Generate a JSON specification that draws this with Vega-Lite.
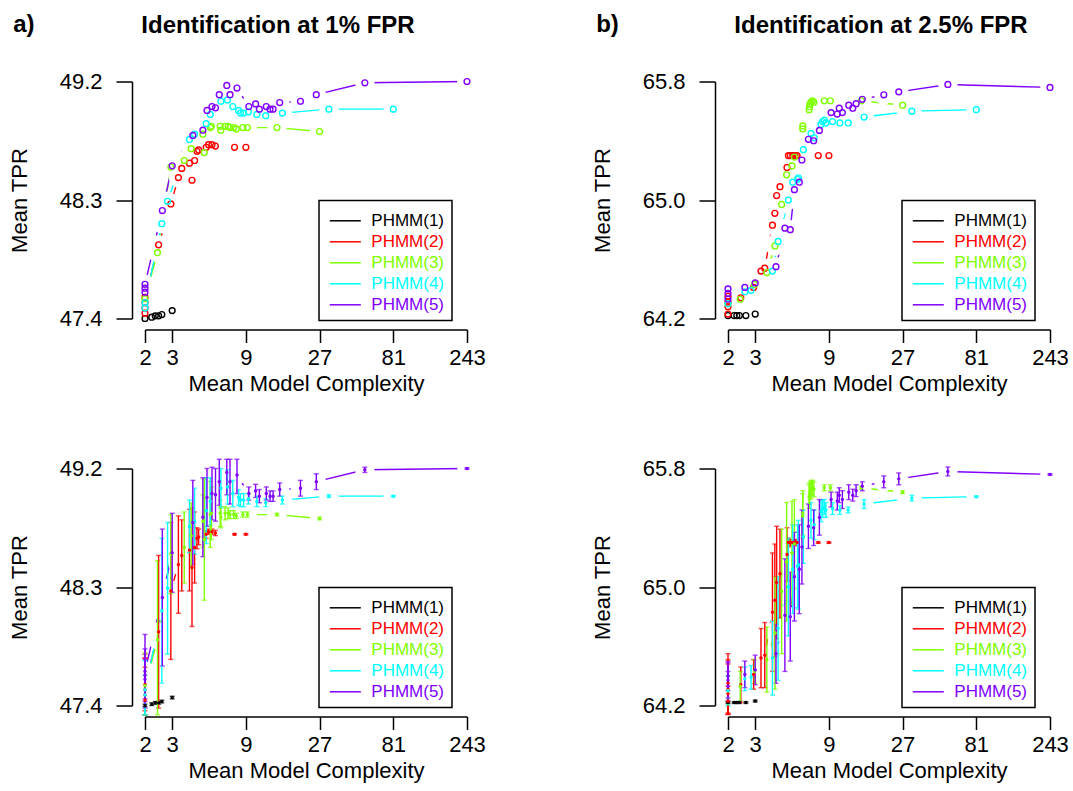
{
"$schema": "https://vega.github.io/schema/vega-lite/v6.json",
"background": "white",
"padding": {"left": 8, "top": 12.5, "right": 5, "bottom": 3},
"datasets": {"d": [
{"p":"a","s":"PHMM(1)","x":2,"y":47.40,"lo":47.39,"hi":47.41},
{"p":"a","s":"PHMM(1)","x":2.21,"y":47.41,"lo":47.40,"hi":47.42},
{"p":"a","s":"PHMM(1)","x":2.33,"y":47.42,"lo":47.41,"hi":47.43},
{"p":"a","s":"PHMM(1)","x":2.45,"y":47.42,"lo":47.41,"hi":47.43},
{"p":"a","s":"PHMM(1)","x":2.57,"y":47.43,"lo":47.42,"hi":47.44},
{"p":"a","s":"PHMM(1)","x":3.0,"y":47.46,"lo":47.45,"hi":47.47},
{"p":"a","s":"PHMM(2)","x":2,"y":47.44,"lo":47.33,"hi":47.69},
{"p":"a","s":"PHMM(2)","x":2,"y":47.48,"lo":47.33,"hi":47.76},
{"p":"a","s":"PHMM(2)","x":2,"y":47.52,"lo":47.33,"hi":47.79},
{"p":"a","s":"PHMM(2)","x":2,"y":47.56,"lo":47.36,"hi":47.76},
{"p":"a","s":"PHMM(2)","x":2.45,"y":47.96,"lo":47.38,"hi":48.54},
{"p":"a","s":"PHMM(2)","x":2.94,"y":48.27,"lo":47.75,"hi":48.79},
{"p":"a","s":"PHMM(2)","x":3.29,"y":48.47,"lo":48.10,"hi":48.84},
{"p":"a","s":"PHMM(2)","x":3.46,"y":48.54,"lo":48.27,"hi":48.81},
{"p":"a","s":"PHMM(2)","x":3.88,"y":48.58,"lo":48.27,"hi":48.89},
{"p":"a","s":"PHMM(2)","x":4.03,"y":48.45,"lo":48.00,"hi":48.90},
{"p":"a","s":"PHMM(2)","x":4.19,"y":48.60,"lo":48.33,"hi":48.87},
{"p":"a","s":"PHMM(2)","x":4.34,"y":48.67,"lo":48.59,"hi":48.75},
{"p":"a","s":"PHMM(2)","x":4.45,"y":48.68,"lo":48.62,"hi":48.74},
{"p":"a","s":"PHMM(2)","x":4.98,"y":48.70,"lo":48.67,"hi":48.73},
{"p":"a","s":"PHMM(2)","x":5.16,"y":48.72,"lo":48.70,"hi":48.74},
{"p":"a","s":"PHMM(2)","x":5.43,"y":48.72,"lo":48.70,"hi":48.74},
{"p":"a","s":"PHMM(2)","x":5.71,"y":48.71,"lo":48.69,"hi":48.73},
{"p":"a","s":"PHMM(2)","x":7.6,"y":48.70,"lo":48.695,"hi":48.705},
{"p":"a","s":"PHMM(2)","x":9.0,"y":48.70,"lo":48.695,"hi":48.705},
{"p":"a","s":"PHMM(3)","x":2,"y":47.55,"lo":47.33,"hi":47.80},
{"p":"a","s":"PHMM(3)","x":2.41,"y":47.90,"lo":47.33,"hi":48.50},
{"p":"a","s":"PHMM(3)","x":2.94,"y":48.55,"lo":48.25,"hi":48.85},
{"p":"a","s":"PHMM(3)","x":3.59,"y":48.60,"lo":48.33,"hi":48.87},
{"p":"a","s":"PHMM(3)","x":3.98,"y":48.69,"lo":48.44,"hi":48.94},
{"p":"a","s":"PHMM(3)","x":4.74,"y":48.80,"lo":48.60,"hi":49.00},
{"p":"a","s":"PHMM(3)","x":4.84,"y":48.66,"lo":48.20,"hi":49.12},
{"p":"a","s":"PHMM(3)","x":5.29,"y":48.85,"lo":48.60,"hi":49.10},
{"p":"a","s":"PHMM(3)","x":5.38,"y":48.86,"lo":48.66,"hi":49.06},
{"p":"a","s":"PHMM(3)","x":6.14,"y":48.86,"lo":48.76,"hi":48.96},
{"p":"a","s":"PHMM(3)","x":6.2,"y":48.83,"lo":48.75,"hi":48.91},
{"p":"a","s":"PHMM(3)","x":6.6,"y":48.86,"lo":48.81,"hi":48.91},
{"p":"a","s":"PHMM(3)","x":6.9,"y":48.86,"lo":48.82,"hi":48.90},
{"p":"a","s":"PHMM(3)","x":7.1,"y":48.85,"lo":48.82,"hi":48.88},
{"p":"a","s":"PHMM(3)","x":7.5,"y":48.85,"lo":48.82,"hi":48.88},
{"p":"a","s":"PHMM(3)","x":7.8,"y":48.84,"lo":48.82,"hi":48.86},
{"p":"a","s":"PHMM(3)","x":8.6,"y":48.85,"lo":48.83,"hi":48.87},
{"p":"a","s":"PHMM(3)","x":9.2,"y":48.85,"lo":48.83,"hi":48.87},
{"p":"a","s":"PHMM(3)","x":14.3,"y":48.85,"lo":48.84,"hi":48.86},
{"p":"a","s":"PHMM(3)","x":27,"y":48.82,"lo":48.81,"hi":48.83},
{"p":"a","s":"PHMM(4)","x":2,"y":47.48,"lo":47.33,"hi":47.63},
{"p":"a","s":"PHMM(4)","x":2,"y":47.52,"lo":47.33,"hi":47.74},
{"p":"a","s":"PHMM(4)","x":2.57,"y":48.12,"lo":47.57,"hi":48.67},
{"p":"a","s":"PHMM(4)","x":2.8,"y":48.29,"lo":47.79,"hi":48.79},
{"p":"a","s":"PHMM(4)","x":3.88,"y":48.76,"lo":48.56,"hi":48.96},
{"p":"a","s":"PHMM(4)","x":4.19,"y":48.80,"lo":48.55,"hi":49.05},
{"p":"a","s":"PHMM(4)","x":4.98,"y":48.88,"lo":48.63,"hi":49.13},
{"p":"a","s":"PHMM(4)","x":5.29,"y":48.95,"lo":48.77,"hi":49.13},
{"p":"a","s":"PHMM(4)","x":6.2,"y":49.05,"lo":48.90,"hi":49.20},
{"p":"a","s":"PHMM(4)","x":6.84,"y":49.06,"lo":48.93,"hi":49.19},
{"p":"a","s":"PHMM(4)","x":7.4,"y":49.01,"lo":48.91,"hi":49.11},
{"p":"a","s":"PHMM(4)","x":8.07,"y":48.98,"lo":48.92,"hi":49.04},
{"p":"a","s":"PHMM(4)","x":8.3,"y":48.96,"lo":48.91,"hi":49.01},
{"p":"a","s":"PHMM(4)","x":8.7,"y":48.96,"lo":48.91,"hi":49.01},
{"p":"a","s":"PHMM(4)","x":9.35,"y":48.97,"lo":48.93,"hi":49.01},
{"p":"a","s":"PHMM(4)","x":10.6,"y":48.95,"lo":48.91,"hi":48.99},
{"p":"a","s":"PHMM(4)","x":12.1,"y":48.94,"lo":48.91,"hi":48.97},
{"p":"a","s":"PHMM(4)","x":15.5,"y":48.96,"lo":48.93,"hi":48.99},
{"p":"a","s":"PHMM(4)","x":31,"y":48.99,"lo":48.98,"hi":49.00},
{"p":"a","s":"PHMM(4)","x":81,"y":48.99,"lo":48.985,"hi":48.995},
{"p":"a","s":"PHMM(5)","x":2,"y":47.60,"lo":47.45,"hi":47.75},
{"p":"a","s":"PHMM(5)","x":2,"y":47.63,"lo":47.43,"hi":47.83},
{"p":"a","s":"PHMM(5)","x":2,"y":47.66,"lo":47.38,"hi":47.94},
{"p":"a","s":"PHMM(5)","x":2.59,"y":48.22,"lo":47.70,"hi":48.74},
{"p":"a","s":"PHMM(5)","x":3.0,"y":48.56,"lo":48.26,"hi":48.86},
{"p":"a","s":"PHMM(5)","x":4.08,"y":48.79,"lo":48.47,"hi":49.11},
{"p":"a","s":"PHMM(5)","x":4.74,"y":48.83,"lo":48.53,"hi":49.13},
{"p":"a","s":"PHMM(5)","x":5.04,"y":48.98,"lo":48.76,"hi":49.20},
{"p":"a","s":"PHMM(5)","x":5.43,"y":49.01,"lo":48.81,"hi":49.21},
{"p":"a","s":"PHMM(5)","x":5.72,"y":49.00,"lo":48.80,"hi":49.20},
{"p":"a","s":"PHMM(5)","x":6.05,"y":49.10,"lo":48.92,"hi":49.27},
{"p":"a","s":"PHMM(5)","x":6.77,"y":49.17,"lo":49.00,"hi":49.27},
{"p":"a","s":"PHMM(5)","x":7.1,"y":49.10,"lo":48.93,"hi":49.27},
{"p":"a","s":"PHMM(5)","x":7.88,"y":49.15,"lo":49.01,"hi":49.27},
{"p":"a","s":"PHMM(5)","x":9.4,"y":49.01,"lo":48.96,"hi":49.06},
{"p":"a","s":"PHMM(5)","x":10.4,"y":49.03,"lo":48.98,"hi":49.08},
{"p":"a","s":"PHMM(5)","x":11.0,"y":48.99,"lo":48.94,"hi":49.04},
{"p":"a","s":"PHMM(5)","x":12.2,"y":49.01,"lo":48.96,"hi":49.06},
{"p":"a","s":"PHMM(5)","x":12.9,"y":48.99,"lo":48.95,"hi":49.03},
{"p":"a","s":"PHMM(5)","x":13.5,"y":48.99,"lo":48.95,"hi":49.03},
{"p":"a","s":"PHMM(5)","x":14.9,"y":49.04,"lo":48.99,"hi":49.09},
{"p":"a","s":"PHMM(5)","x":20.3,"y":49.05,"lo":48.99,"hi":49.11},
{"p":"a","s":"PHMM(5)","x":25.7,"y":49.10,"lo":49.04,"hi":49.16},
{"p":"a","s":"PHMM(5)","x":53,"y":49.19,"lo":49.17,"hi":49.21},
{"p":"a","s":"PHMM(5)","x":243,"y":49.20,"lo":49.195,"hi":49.205},
{"p":"b","s":"PHMM(1)","x":2,"y":64.22,"lo":64.214,"hi":64.226},
{"p":"b","s":"PHMM(1)","x":2.19,"y":64.22,"lo":64.214,"hi":64.226},
{"p":"b","s":"PHMM(1)","x":2.28,"y":64.22,"lo":64.214,"hi":64.226},
{"p":"b","s":"PHMM(1)","x":2.37,"y":64.22,"lo":64.214,"hi":64.226},
{"p":"b","s":"PHMM(1)","x":2.61,"y":64.22,"lo":64.214,"hi":64.226},
{"p":"b","s":"PHMM(1)","x":3.0,"y":64.23,"lo":64.224,"hi":64.236},
{"p":"b","s":"PHMM(2)","x":2,"y":64.23,"lo":64.14,"hi":64.33},
{"p":"b","s":"PHMM(2)","x":2,"y":64.28,"lo":64.14,"hi":64.48},
{"p":"b","s":"PHMM(2)","x":2,"y":64.31,"lo":64.14,"hi":64.51},
{"p":"b","s":"PHMM(2)","x":2,"y":64.35,"lo":64.15,"hi":64.55},
{"p":"b","s":"PHMM(2)","x":2.42,"y":64.34,"lo":64.22,"hi":64.46},
{"p":"b","s":"PHMM(2)","x":2.93,"y":64.41,"lo":64.31,"hi":64.51},
{"p":"b","s":"PHMM(2)","x":3.27,"y":64.52,"lo":64.32,"hi":64.72},
{"p":"b","s":"PHMM(2)","x":3.46,"y":64.54,"lo":64.32,"hi":64.76},
{"p":"b","s":"PHMM(2)","x":3.88,"y":64.83,"lo":64.43,"hi":65.23},
{"p":"b","s":"PHMM(2)","x":4.02,"y":64.91,"lo":64.53,"hi":65.29},
{"p":"b","s":"PHMM(2)","x":4.13,"y":65.03,"lo":64.65,"hi":65.41},
{"p":"b","s":"PHMM(2)","x":4.34,"y":65.09,"lo":64.79,"hi":65.39},
{"p":"b","s":"PHMM(2)","x":4.82,"y":65.22,"lo":65.04,"hi":65.40},
{"p":"b","s":"PHMM(2)","x":4.92,"y":65.30,"lo":65.27,"hi":65.33},
{"p":"b","s":"PHMM(2)","x":5.06,"y":65.30,"lo":65.28,"hi":65.32},
{"p":"b","s":"PHMM(2)","x":5.25,"y":65.30,"lo":65.28,"hi":65.32},
{"p":"b","s":"PHMM(2)","x":5.44,"y":65.30,"lo":65.28,"hi":65.32},
{"p":"b","s":"PHMM(2)","x":5.6,"y":65.30,"lo":65.28,"hi":65.32},
{"p":"b","s":"PHMM(2)","x":7.68,"y":65.30,"lo":65.295,"hi":65.305},
{"p":"b","s":"PHMM(2)","x":9.0,"y":65.30,"lo":65.295,"hi":65.305},
{"p":"b","s":"PHMM(3)","x":2,"y":64.30,"lo":64.20,"hi":64.40},
{"p":"b","s":"PHMM(3)","x":2.4,"y":64.33,"lo":64.23,"hi":64.43},
{"p":"b","s":"PHMM(3)","x":2.97,"y":64.43,"lo":64.35,"hi":64.51},
{"p":"b","s":"PHMM(3)","x":3.57,"y":64.51,"lo":64.29,"hi":64.73},
{"p":"b","s":"PHMM(3)","x":4.03,"y":64.69,"lo":64.31,"hi":65.07},
{"p":"b","s":"PHMM(3)","x":4.45,"y":64.97,"lo":64.55,"hi":65.39},
{"p":"b","s":"PHMM(3)","x":4.79,"y":65.17,"lo":64.77,"hi":65.57},
{"p":"b","s":"PHMM(3)","x":5.19,"y":65.23,"lo":64.88,"hi":65.58},
{"p":"b","s":"PHMM(3)","x":5.38,"y":65.29,"lo":64.99,"hi":65.59},
{"p":"b","s":"PHMM(3)","x":6.09,"y":65.48,"lo":65.33,"hi":65.63},
{"p":"b","s":"PHMM(3)","x":6.1,"y":65.50,"lo":65.35,"hi":65.65},
{"p":"b","s":"PHMM(3)","x":6.7,"y":65.61,"lo":65.53,"hi":65.69},
{"p":"b","s":"PHMM(3)","x":6.75,"y":65.63,"lo":65.56,"hi":65.70},
{"p":"b","s":"PHMM(3)","x":6.8,"y":65.65,"lo":65.59,"hi":65.71},
{"p":"b","s":"PHMM(3)","x":6.9,"y":65.66,"lo":65.60,"hi":65.72},
{"p":"b","s":"PHMM(3)","x":7.05,"y":65.67,"lo":65.62,"hi":65.72},
{"p":"b","s":"PHMM(3)","x":7.2,"y":65.66,"lo":65.61,"hi":65.71},
{"p":"b","s":"PHMM(3)","x":8.4,"y":65.67,"lo":65.65,"hi":65.69},
{"p":"b","s":"PHMM(3)","x":9.2,"y":65.67,"lo":65.65,"hi":65.69},
{"p":"b","s":"PHMM(3)","x":14.6,"y":65.67,"lo":65.66,"hi":65.68},
{"p":"b","s":"PHMM(3)","x":27,"y":65.64,"lo":65.63,"hi":65.65},
{"p":"b","s":"PHMM(4)","x":2,"y":64.30,"lo":64.20,"hi":64.40},
{"p":"b","s":"PHMM(4)","x":2.57,"y":64.38,"lo":64.30,"hi":64.46},
{"p":"b","s":"PHMM(4)","x":2.82,"y":64.39,"lo":64.31,"hi":64.47},
{"p":"b","s":"PHMM(4)","x":3.88,"y":64.52,"lo":64.27,"hi":64.77},
{"p":"b","s":"PHMM(4)","x":4.22,"y":64.72,"lo":64.37,"hi":65.07},
{"p":"b","s":"PHMM(4)","x":4.92,"y":65.00,"lo":64.67,"hi":65.33},
{"p":"b","s":"PHMM(4)","x":5.25,"y":65.12,"lo":64.82,"hi":65.42},
{"p":"b","s":"PHMM(4)","x":5.64,"y":65.14,"lo":64.86,"hi":65.42},
{"p":"b","s":"PHMM(4)","x":5.71,"y":65.15,"lo":64.85,"hi":65.45},
{"p":"b","s":"PHMM(4)","x":6.15,"y":65.34,"lo":65.16,"hi":65.52},
{"p":"b","s":"PHMM(4)","x":6.89,"y":65.45,"lo":65.33,"hi":65.57},
{"p":"b","s":"PHMM(4)","x":7.23,"y":65.42,"lo":65.32,"hi":65.52},
{"p":"b","s":"PHMM(4)","x":8.0,"y":65.51,"lo":65.44,"hi":65.58},
{"p":"b","s":"PHMM(4)","x":8.2,"y":65.53,"lo":65.47,"hi":65.59},
{"p":"b","s":"PHMM(4)","x":8.4,"y":65.54,"lo":65.49,"hi":65.59},
{"p":"b","s":"PHMM(4)","x":8.6,"y":65.52,"lo":65.47,"hi":65.57},
{"p":"b","s":"PHMM(4)","x":9.5,"y":65.53,"lo":65.49,"hi":65.57},
{"p":"b","s":"PHMM(4)","x":10.6,"y":65.52,"lo":65.49,"hi":65.55},
{"p":"b","s":"PHMM(4)","x":12.0,"y":65.52,"lo":65.50,"hi":65.54},
{"p":"b","s":"PHMM(4)","x":15.2,"y":65.56,"lo":65.53,"hi":65.59},
{"p":"b","s":"PHMM(4)","x":31,"y":65.60,"lo":65.58,"hi":65.62},
{"p":"b","s":"PHMM(4)","x":81,"y":65.61,"lo":65.605,"hi":65.615},
{"p":"b","s":"PHMM(5)","x":2,"y":64.33,"lo":64.23,"hi":64.43},
{"p":"b","s":"PHMM(5)","x":2,"y":64.37,"lo":64.25,"hi":64.49},
{"p":"b","s":"PHMM(5)","x":2,"y":64.40,"lo":64.30,"hi":64.50},
{"p":"b","s":"PHMM(5)","x":2.57,"y":64.41,"lo":64.32,"hi":64.50},
{"p":"b","s":"PHMM(5)","x":3.0,"y":64.44,"lo":64.34,"hi":64.54},
{"p":"b","s":"PHMM(5)","x":4.09,"y":64.55,"lo":64.35,"hi":64.75},
{"p":"b","s":"PHMM(5)","x":4.67,"y":64.81,"lo":64.43,"hi":65.19},
{"p":"b","s":"PHMM(5)","x":5.06,"y":64.80,"lo":64.50,"hi":65.10},
{"p":"b","s":"PHMM(5)","x":5.38,"y":65.07,"lo":64.77,"hi":65.37},
{"p":"b","s":"PHMM(5)","x":5.79,"y":65.12,"lo":64.82,"hi":65.42},
{"p":"b","s":"PHMM(5)","x":6.02,"y":65.27,"lo":65.02,"hi":65.52},
{"p":"b","s":"PHMM(5)","x":6.63,"y":65.41,"lo":65.26,"hi":65.56},
{"p":"b","s":"PHMM(5)","x":7.17,"y":65.40,"lo":65.28,"hi":65.52},
{"p":"b","s":"PHMM(5)","x":7.81,"y":65.47,"lo":65.35,"hi":65.59},
{"p":"b","s":"PHMM(5)","x":9.3,"y":65.59,"lo":65.54,"hi":65.64},
{"p":"b","s":"PHMM(5)","x":10.2,"y":65.58,"lo":65.52,"hi":65.64},
{"p":"b","s":"PHMM(5)","x":10.5,"y":65.62,"lo":65.57,"hi":65.67},
{"p":"b","s":"PHMM(5)","x":11.0,"y":65.59,"lo":65.53,"hi":65.65},
{"p":"b","s":"PHMM(5)","x":12.1,"y":65.64,"lo":65.59,"hi":65.69},
{"p":"b","s":"PHMM(5)","x":12.85,"y":65.62,"lo":65.58,"hi":65.66},
{"p":"b","s":"PHMM(5)","x":13.5,"y":65.65,"lo":65.61,"hi":65.69},
{"p":"b","s":"PHMM(5)","x":14.8,"y":65.68,"lo":65.65,"hi":65.71},
{"p":"b","s":"PHMM(5)","x":20.4,"y":65.71,"lo":65.67,"hi":65.75},
{"p":"b","s":"PHMM(5)","x":25.5,"y":65.73,"lo":65.69,"hi":65.77},
{"p":"b","s":"PHMM(5)","x":53,"y":65.78,"lo":65.75,"hi":65.81},
{"p":"b","s":"PHMM(5)","x":243,"y":65.76,"lo":65.755,"hi":65.765}
]},
"hconcat": [
{
"title": {"text": "a)", "anchor": "start", "frame": "bounds", "offset": 0, "dy": 42, "dx": 5, "baseline": "alphabetic"},
"spacing": 150, "bounds": "flush",
"resolve": {"scale": {"color": "independent"}},
"vconcat": [
{
"width": 322, "height": 237,
"title": {"text": "Identification at 1% FPR", "frame": "group", "anchor": "middle", "dx": -28, "offset": 14, "baseline": "alphabetic"},
"data": {"name": "d"},
"transform": [{"filter": "datum.p == 'a'"}],
"encoding": {
"x": {"field": "x", "type": "quantitative", "scale": {"type": "log", "base": 3, "domain": [2, 243], "nice": false}, "axis": {"values": [2,3,9,27,81,243], "format": "d", "title": "Mean Model Complexity", "zindex": 2}},
"y": {"field": "y", "type": "quantitative", "scale": {"domain": [47.4, 49.2], "nice": false, "zero": false}, "axis": {"values": [47.4, 48.3, 49.2], "format": ".1f", "title": "Mean TPR", "zindex": 2}},
"color": {"field": "s", "type": "nominal", "scale": {"domain": ["PHMM(1)","PHMM(2)","PHMM(3)","PHMM(4)","PHMM(5)"], "range": ["#000000","#FF0000","#80FF00","#00FFFF","#8000FF"]},
"legend": {"title": null, "orient": "none", "legendX": 174, "legendY": 119, "symbolType": "M-1.28,0H1.28", "symbolSize": 588, "symbolStrokeWidth": 1.5, "symbolOffset": 6, "labelFontSize": 17, "labelFont": "Liberation Sans", "padding": 7.3, "strokeColor": "#000000", "fillColor": "#ffffff", "rowPadding": 0, "labelOffset": 13, "labelLimit": 0, "encode": {"labels": {"update": {"fontSize": {"value": 17}, "fill": {"signal": "datum.value=='PHMM(1)'?'#000000':datum.value=='PHMM(2)'?'#FF0000':datum.value=='PHMM(3)'?'#80FF00':datum.value=='PHMM(4)'?'#00FFFF':'#8000FF'"}}}, "legend": {"update": {"strokeWidth": {"value": 1.5}}}}}}
},
"layer": [
{"mark": {"type": "line", "strokeWidth": 1.4}},
{"mark": {"type": "circle", "size": 380, "opacity": 1}, "encoding": {"color": {"value": "#ffffff"}}},
{"mark": {"type": "point", "filled": false, "size": 34, "strokeWidth": 1.4, "opacity": 1}}
]
},
{
"width": 322, "height": 237,
"data": {"name": "d"},
"transform": [{"filter": "datum.p == 'a'"}],
"encoding": {
"x": {"field": "x", "type": "quantitative", "scale": {"type": "log", "base": 3, "domain": [2, 243], "nice": false}, "axis": {"values": [2,3,9,27,81,243], "format": "d", "title": "Mean Model Complexity", "zindex": 2}},
"y": {"field": "y", "type": "quantitative", "scale": {"domain": [47.4, 49.2], "nice": false, "zero": false}, "axis": {"values": [47.4, 48.3, 49.2], "format": ".1f", "title": "Mean TPR", "zindex": 2}},
"color": {"field": "s", "type": "nominal", "scale": {"domain": ["PHMM(1)","PHMM(2)","PHMM(3)","PHMM(4)","PHMM(5)"], "range": ["#000000","#FF0000","#80FF00","#00FFFF","#8000FF"]},
"legend": {"title": null, "orient": "none", "legendX": 174, "legendY": 119, "symbolType": "M-1.28,0H1.28", "symbolSize": 588, "symbolStrokeWidth": 1.5, "symbolOffset": 6, "labelFontSize": 17, "labelFont": "Liberation Sans", "padding": 7.3, "strokeColor": "#000000", "fillColor": "#ffffff", "rowPadding": 0, "labelOffset": 13, "labelLimit": 0, "encode": {"labels": {"update": {"fontSize": {"value": 17}, "fill": {"signal": "datum.value=='PHMM(1)'?'#000000':datum.value=='PHMM(2)'?'#FF0000':datum.value=='PHMM(3)'?'#80FF00':datum.value=='PHMM(4)'?'#00FFFF':'#8000FF'"}}}, "legend": {"update": {"strokeWidth": {"value": 1.5}}}}}}
},
"layer": [
{"mark": {"type": "line", "strokeWidth": 1.4}},
{"mark": {"type": "circle", "size": 380, "opacity": 1}, "encoding": {"color": {"value": "#ffffff"}}},
{"mark": {"type": "errorbar", "thickness": 1.4, "ticks": {"size": 5, "thickness": 1.4}}, "encoding": {"y": {"field": "lo", "type": "quantitative", "title": "Mean TPR"}, "y2": {"field": "hi"}}},
{"mark": {"type": "circle", "size": 12, "opacity": 1}}
]
}
]
},
{
"title": {"text": "b)", "anchor": "start", "frame": "bounds", "offset": 0, "dy": 42, "dx": 5, "baseline": "alphabetic"},
"spacing": 150, "bounds": "flush",
"resolve": {"scale": {"color": "independent"}},
"vconcat": [
{
"width": 322, "height": 237,
"title": {"text": "Identification at 2.5% FPR", "frame": "group", "anchor": "middle", "dx": -8, "offset": 14, "baseline": "alphabetic"},
"data": {"name": "d"},
"transform": [{"filter": "datum.p == 'b'"}],
"encoding": {
"x": {"field": "x", "type": "quantitative", "scale": {"type": "log", "base": 3, "domain": [2, 243], "nice": false}, "axis": {"values": [2,3,9,27,81,243], "format": "d", "title": "Mean Model Complexity", "zindex": 2}},
"y": {"field": "y", "type": "quantitative", "scale": {"domain": [64.2, 65.8], "nice": false, "zero": false}, "axis": {"values": [64.2, 65.0, 65.8], "format": ".1f", "title": "Mean TPR", "zindex": 2}},
"color": {"field": "s", "type": "nominal", "scale": {"domain": ["PHMM(1)","PHMM(2)","PHMM(3)","PHMM(4)","PHMM(5)"], "range": ["#000000","#FF0000","#80FF00","#00FFFF","#8000FF"]},
"legend": {"title": null, "orient": "none", "legendX": 174, "legendY": 119, "symbolType": "M-1.28,0H1.28", "symbolSize": 588, "symbolStrokeWidth": 1.5, "symbolOffset": 6, "labelFontSize": 17, "labelFont": "Liberation Sans", "padding": 7.3, "strokeColor": "#000000", "fillColor": "#ffffff", "rowPadding": 0, "labelOffset": 13, "labelLimit": 0, "encode": {"labels": {"update": {"fontSize": {"value": 17}, "fill": {"signal": "datum.value=='PHMM(1)'?'#000000':datum.value=='PHMM(2)'?'#FF0000':datum.value=='PHMM(3)'?'#80FF00':datum.value=='PHMM(4)'?'#00FFFF':'#8000FF'"}}}, "legend": {"update": {"strokeWidth": {"value": 1.5}}}}}}
},
"layer": [
{"mark": {"type": "line", "strokeWidth": 1.4}},
{"mark": {"type": "circle", "size": 380, "opacity": 1}, "encoding": {"color": {"value": "#ffffff"}}},
{"mark": {"type": "point", "filled": false, "size": 34, "strokeWidth": 1.4, "opacity": 1}}
]
},
{
"width": 322, "height": 237,
"data": {"name": "d"},
"transform": [{"filter": "datum.p == 'b'"}],
"encoding": {
"x": {"field": "x", "type": "quantitative", "scale": {"type": "log", "base": 3, "domain": [2, 243], "nice": false}, "axis": {"values": [2,3,9,27,81,243], "format": "d", "title": "Mean Model Complexity", "zindex": 2}},
"y": {"field": "y", "type": "quantitative", "scale": {"domain": [64.2, 65.8], "nice": false, "zero": false}, "axis": {"values": [64.2, 65.0, 65.8], "format": ".1f", "title": "Mean TPR", "zindex": 2}},
"color": {"field": "s", "type": "nominal", "scale": {"domain": ["PHMM(1)","PHMM(2)","PHMM(3)","PHMM(4)","PHMM(5)"], "range": ["#000000","#FF0000","#80FF00","#00FFFF","#8000FF"]},
"legend": {"title": null, "orient": "none", "legendX": 174, "legendY": 119, "symbolType": "M-1.28,0H1.28", "symbolSize": 588, "symbolStrokeWidth": 1.5, "symbolOffset": 6, "labelFontSize": 17, "labelFont": "Liberation Sans", "padding": 7.3, "strokeColor": "#000000", "fillColor": "#ffffff", "rowPadding": 0, "labelOffset": 13, "labelLimit": 0, "encode": {"labels": {"update": {"fontSize": {"value": 17}, "fill": {"signal": "datum.value=='PHMM(1)'?'#000000':datum.value=='PHMM(2)'?'#FF0000':datum.value=='PHMM(3)'?'#80FF00':datum.value=='PHMM(4)'?'#00FFFF':'#8000FF'"}}}, "legend": {"update": {"strokeWidth": {"value": 1.5}}}}}}
},
"layer": [
{"mark": {"type": "line", "strokeWidth": 1.4}},
{"mark": {"type": "circle", "size": 380, "opacity": 1}, "encoding": {"color": {"value": "#ffffff"}}},
{"mark": {"type": "errorbar", "thickness": 1.4, "ticks": {"size": 5, "thickness": 1.4}}, "encoding": {"y": {"field": "lo", "type": "quantitative", "title": "Mean TPR"}, "y2": {"field": "hi"}}},
{"mark": {"type": "circle", "size": 12, "opacity": 1}}
]
}
]
}
],
"spacing": 105,
"bounds": "full",
"resolve": {"scale": {"color": "independent"}},
"config": {
"view": {"stroke": null},
"font": "Liberation Sans",
"title": {"font": "Liberation Sans", "fontSize": 24, "fontWeight": "bold", "color": "#000000"},
"axis": {"grid": false, "zindex": 2, "labelFont": "Liberation Sans", "titleFont": "Liberation Sans", "labelFontSize": 22, "titleFontSize": 22, "titleFontWeight": "normal", "labelColor": "#000000", "titleColor": "#000000", "domainColor": "#000000", "tickColor": "#000000", "domainWidth": 1.5, "tickWidth": 1.5, "labelFlush": false, "labelOverlap": false},
"axisX": {"offset": 11, "tickSize": 13, "labelPadding": 5, "titlePadding": 5},
"axisY": {"offset": 13, "tickSize": 16, "labelPadding": 14, "titlePadding": 28}
}
}
